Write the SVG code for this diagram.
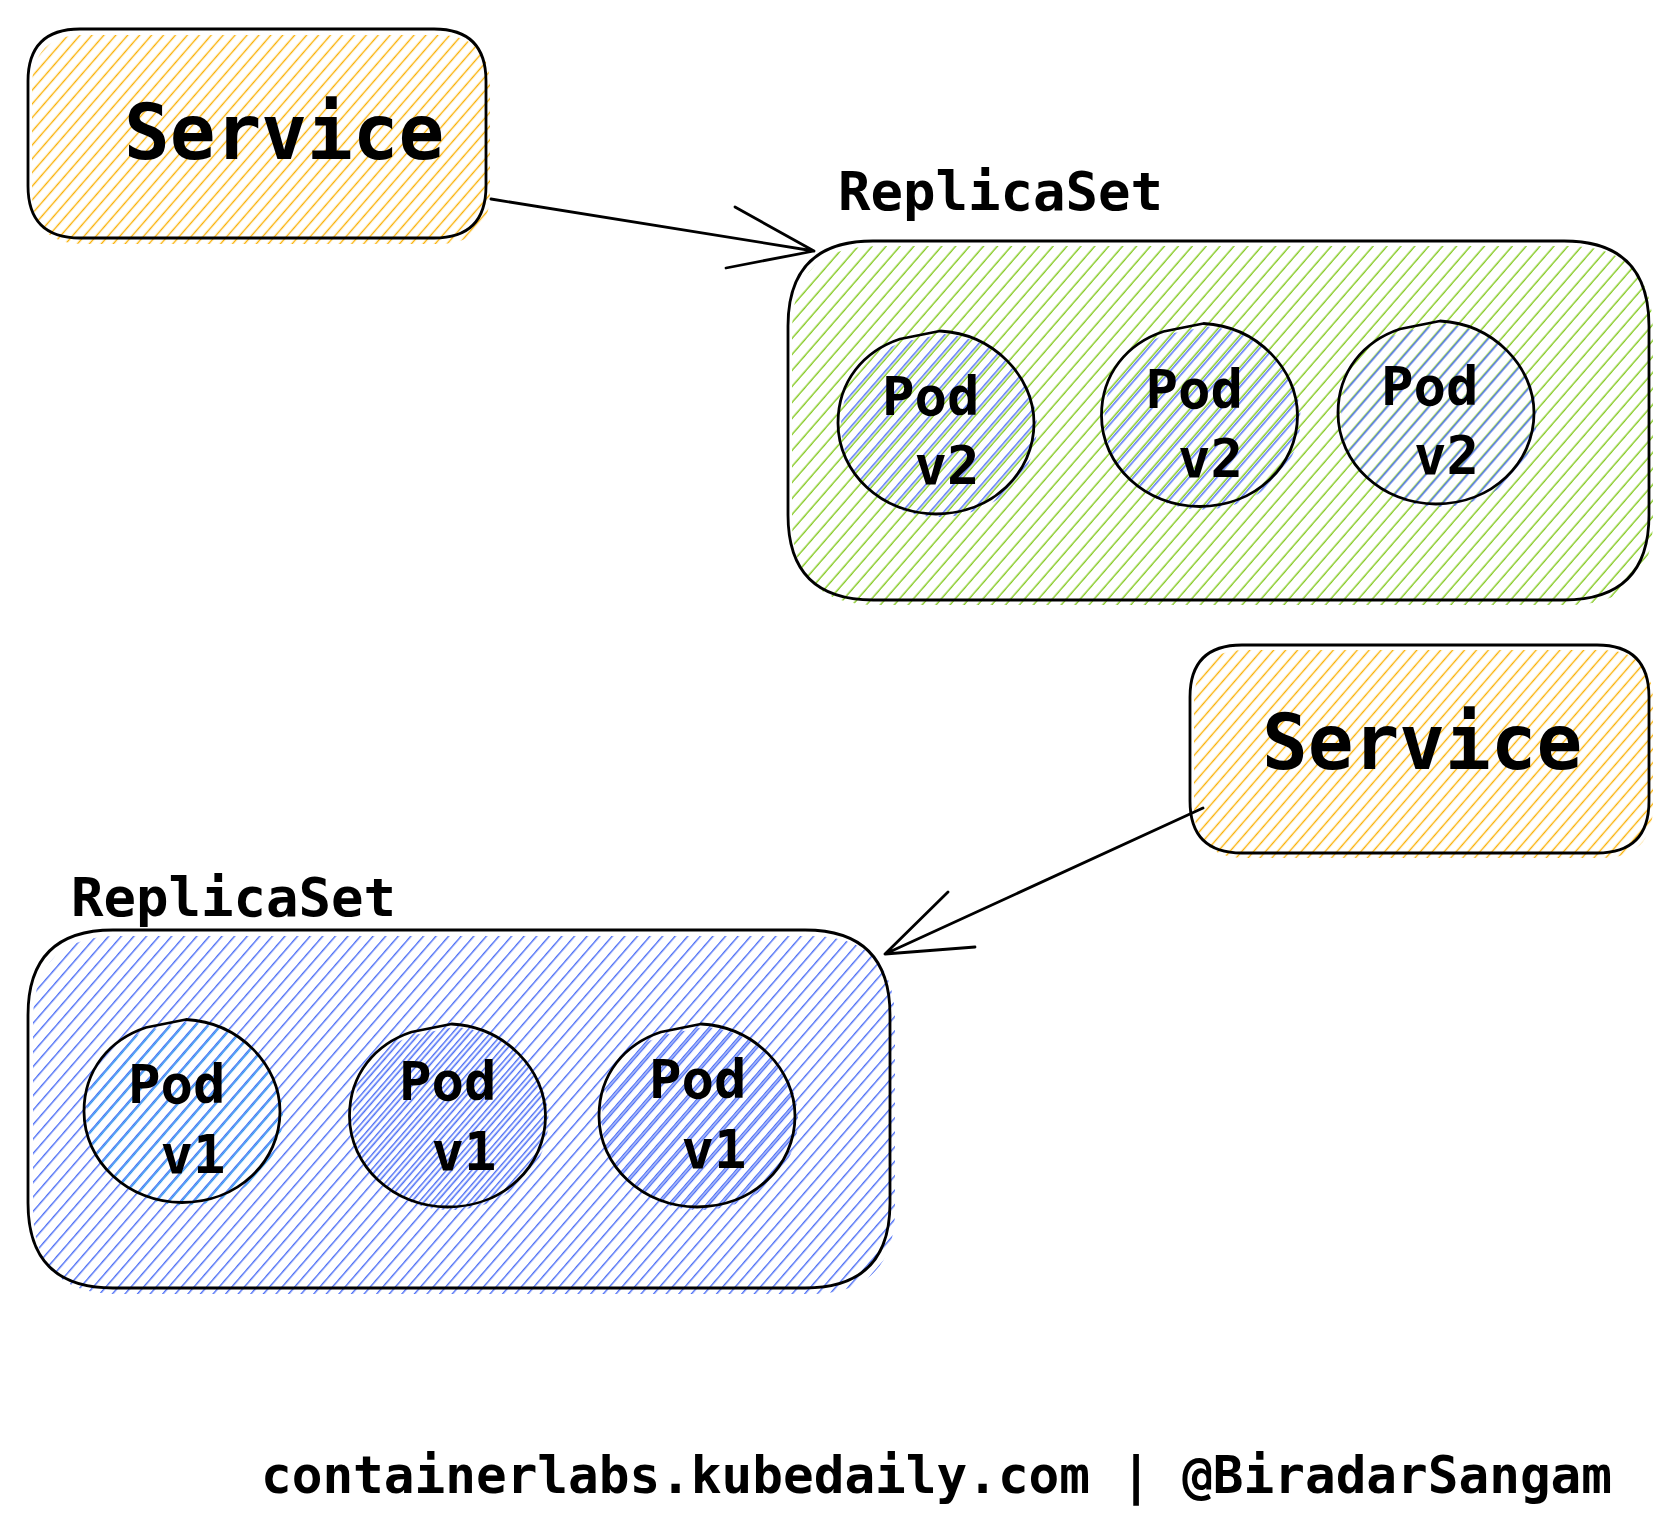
<svg xmlns="http://www.w3.org/2000/svg" width="1680" height="1538" viewBox="0 0 1680 1538">
<defs>
<pattern id="hOrange" patternUnits="userSpaceOnUse" width="9" height="9" patternTransform="rotate(41)"><line x1="4.5" y1="-2" x2="4.5" y2="11" stroke="#fab005" stroke-width="1.4"/></pattern>
<pattern id="hGreen" patternUnits="userSpaceOnUse" width="10.5" height="10.5" patternTransform="rotate(41)"><line x1="5" y1="-2" x2="5" y2="13" stroke="#82c91e" stroke-width="1.4"/></pattern>
<pattern id="hBlue" patternUnits="userSpaceOnUse" width="9.5" height="9.5" patternTransform="rotate(41)"><line x1="4.5" y1="-2" x2="4.5" y2="12" stroke="#4c6ef5" stroke-width="1.4"/></pattern>
<pattern id="hBlue2" patternUnits="userSpaceOnUse" width="10.5" height="10.5" patternTransform="rotate(41)"><line x1="7.5" y1="-2" x2="7.5" y2="13" stroke="#4c6ef5" stroke-width="1.4"/></pattern>
<pattern id="hBlueDense" patternUnits="userSpaceOnUse" width="9.5" height="9.5" patternTransform="rotate(41)"><line x1="6" y1="-2" x2="6" y2="12" stroke="#4c6ef5" stroke-width="1.6"/></pattern>
<pattern id="hLight" patternUnits="userSpaceOnUse" width="9.5" height="9.5" patternTransform="rotate(41)"><line x1="7" y1="-2" x2="7" y2="12" stroke="#339af0" stroke-width="1.4"/></pattern>
<path id="podShape" d="M4,-92 C58,-89 98,-46 98,0 C98,50 56,91 0,91 C-54,91 -98,50 -98,0 C-98,-42 -72,-72 -36,-84 Q-16,-88 4,-92 Z"/>
</defs>
<style>
.outline{fill:none;stroke:#000;stroke-width:2.8;stroke-linecap:round;stroke-linejoin:round}
.conn{fill:none;stroke:#000;stroke-width:2.8;stroke-linecap:round;stroke-linejoin:round}
.t{font-family:"DejaVu Sans Mono","Liberation Mono",monospace;font-weight:bold;fill:#000}
.svc{font-size:76px}
.rs{font-size:54px}
.pod{font-size:54px}
.foot{font-size:51px}
</style>
<rect width="1680" height="1538" fill="#fff"/>

<g id="service-top">
<path transform="translate(4,6)" fill="url(#hOrange)" d="M80,29 L434,29 Q486,29 486,81 L486,186 Q486,238 434,238 L80,238 Q28,238 28,186 L28,81 Q28,29 80,29 Z"/>
<path class="outline" d="M80,29 L434,29 Q486,29 486,81 L486,186 Q486,238 434,238 L80,238 Q28,238 28,186 L28,81 Q28,29 80,29 Z"/>
<text class="t svc" x="124" y="159">Service</text>
</g>

<g id="replicaset-v2">
<text class="t rs" x="838" y="210">ReplicaSet</text>
<path transform="translate(4,5)" fill="url(#hGreen)" d="M873,241 L1564,241 Q1649,241 1649,326 L1649,515 Q1649,600 1564,600 L873,600 Q788,600 788,515 L788,326 Q788,241 873,241 Z"/>
<path class="outline" d="M873,241 L1564,241 Q1649,241 1649,326 L1649,515 Q1649,600 1564,600 L873,600 Q788,600 788,515 L788,326 Q788,241 873,241 Z"/>
</g>

<g id="pod-v2-1">
<g transform="translate(936,423)"><use href="#podShape" transform="translate(3,3)" fill="url(#hBlue2)"/><use href="#podShape" class="outline"/></g>
<text class="t pod"><tspan x="882" y="415">Pod</tspan><tspan x="914.5" y="484">v2</tspan></text>
</g>
<g id="pod-v2-2">
<g transform="translate(1199.5,415.5)"><use href="#podShape" transform="translate(3,3)" fill="url(#hBlue2)"/><use href="#podShape" class="outline"/></g>
<text class="t pod"><tspan x="1145.5" y="408">Pod</tspan><tspan x="1178" y="477">v2</tspan></text>
</g>
<g id="pod-v2-3">
<g transform="translate(1436,413)"><use href="#podShape" transform="translate(3,3)" fill="url(#hBlue2)"/><use href="#podShape" class="outline"/></g>
<text class="t pod"><tspan x="1381" y="405">Pod</tspan><tspan x="1414" y="474">v2</tspan></text>
</g>

<g id="service-bottom">
<path transform="translate(4,5)" fill="url(#hOrange)" d="M1242,645 L1597,645 Q1649,645 1649,697 L1649,801 Q1649,853 1597,853 L1242,853 Q1190,853 1190,801 L1190,697 Q1190,645 1242,645 Z"/>
<path class="outline" d="M1242,645 L1597,645 Q1649,645 1649,697 L1649,801 Q1649,853 1597,853 L1242,853 Q1190,853 1190,801 L1190,697 Q1190,645 1242,645 Z"/>
<text class="t svc" x="1262" y="769">Service</text>
</g>

<g id="replicaset-v1">
<text class="t rs" x="71" y="916">ReplicaSet</text>
<path transform="translate(5,6)" fill="url(#hBlue)" d="M113,930 L805,930 Q890,930 890,1015 L890,1203 Q890,1288 805,1288 L113,1288 Q28,1288 28,1203 L28,1015 Q28,930 113,930 Z"/>
<path class="outline" d="M113,930 L805,930 Q890,930 890,1015 L890,1203 Q890,1288 805,1288 L113,1288 Q28,1288 28,1203 L28,1015 Q28,930 113,930 Z"/>
</g>

<g id="pod-v1-1">
<g transform="translate(182,1111.5)"><use href="#podShape" transform="translate(3,3)" fill="url(#hLight)"/><use href="#podShape" class="outline"/></g>
<text class="t pod"><tspan x="128" y="1103">Pod</tspan><tspan x="160.5" y="1173">v1</tspan></text>
</g>
<g id="pod-v1-2">
<g transform="translate(447.5,1116)"><use href="#podShape" transform="translate(3,3)" fill="url(#hBlueDense)"/><use href="#podShape" class="outline"/></g>
<text class="t pod"><tspan x="399" y="1100">Pod</tspan><tspan x="431.5" y="1170">v1</tspan></text>
</g>
<g id="pod-v1-3">
<g transform="translate(697,1116)"><use href="#podShape" transform="translate(3,3)" fill="url(#hBlueDense)"/><use href="#podShape" class="outline"/></g>
<text class="t pod"><tspan x="649" y="1098">Pod</tspan><tspan x="681.5" y="1168">v1</tspan></text>
</g>

<g id="connectors">
<path class="conn" d="M491,199 L814,251 M735,207 L814,251 L726,268"/>
<path class="conn" d="M1203,808 L885,954 M948,892 L885,954 L975,947"/>
</g>

<g id="footer">
<text class="t foot" x="261" y="1493">containerlabs.kubedaily.com | @BiradarSangam</text>
</g>
</svg>
